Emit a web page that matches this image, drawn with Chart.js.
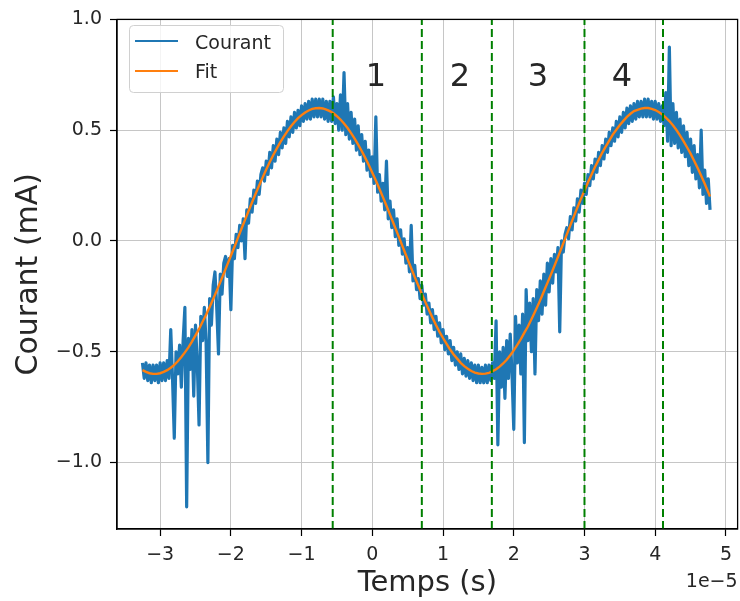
<!DOCTYPE html>
<html><head><meta charset="utf-8">
<script src="https://cdn.jsdelivr.net/npm/chart.js@4.4.1/dist/chart.umd.min.js"></script>
<style>html,body{margin:0;padding:0;background:#fff;}#wrap{width:740px;height:601px;}</style>
</head><body><div id="wrap"><canvas id="c" width="740" height="601"></canvas></div>
<script>
const seriesNames = ['Courant', 'Fit'];
const xTitle = 'Temps (s)';
const yTitle = 'Courant (mA)';
const xOffsetText = '1e\u22125';
const xTicks = [-3, -2, -1, 0, 1, 2, 3, 4, 5];
const yTicks = [-1.0, -0.5, 0.0, 0.5, 1.0];
const xRange = [-3.61, 5.165];
const yRange = [-1.3, 1.0];
const boundaryX = [-0.56, 0.70, 1.69, 3.0, 4.11];
const regionLabels = ['1', '2', '3', '4'];
const regionX = [0.05, 1.24, 2.34, 3.53];
const regionY = [0.75, 0.75, 0.75, 0.75];

const timeX = [
-3.25,-3.225,-3.2,-3.175,-3.15,-3.125,-3.1,-3.075,-3.05,-3.025,
-3,-2.975,-2.95,-2.925,-2.9,-2.875,-2.85,-2.825,-2.8,-2.775,
-2.75,-2.725,-2.7,-2.675,-2.65,-2.625,-2.6,-2.575,-2.55,-2.525,
-2.5,-2.475,-2.45,-2.425,-2.4,-2.375,-2.35,-2.325,-2.3,-2.275,
-2.25,-2.225,-2.2,-2.175,-2.15,-2.125,-2.1,-2.075,-2.05,-2.025,
-2,-1.975,-1.95,-1.925,-1.9,-1.875,-1.85,-1.825,-1.8,-1.775,
-1.75,-1.725,-1.7,-1.675,-1.65,-1.625,-1.6,-1.575,-1.55,-1.525,
-1.5,-1.475,-1.45,-1.425,-1.4,-1.375,-1.35,-1.325,-1.3,-1.275,
-1.25,-1.225,-1.2,-1.175,-1.15,-1.125,-1.1,-1.075,-1.05,-1.025,
-1,-0.975,-0.95,-0.925,-0.9,-0.875,-0.85,-0.825,-0.8,-0.775,
-0.75,-0.725,-0.7,-0.675,-0.65,-0.625,-0.6,-0.575,-0.55,-0.525,
-0.5,-0.475,-0.45,-0.425,-0.4,-0.375,-0.35,-0.325,-0.3,-0.275,
-0.25,-0.225,-0.2,-0.175,-0.15,-0.125,-0.1,-0.075,-0.05,-0.025,
0,0.025,0.05,0.075,0.1,0.125,0.15,0.175,0.2,0.225,
0.25,0.275,0.3,0.325,0.35,0.375,0.4,0.425,0.45,0.475,
0.5,0.525,0.55,0.575,0.6,0.625,0.65,0.675,0.7,0.725,
0.75,0.775,0.8,0.825,0.85,0.875,0.9,0.925,0.95,0.975,
1,1.025,1.05,1.075,1.1,1.125,1.15,1.175,1.2,1.225,
1.25,1.275,1.3,1.325,1.35,1.375,1.4,1.425,1.45,1.475,
1.5,1.525,1.55,1.575,1.6,1.625,1.65,1.675,1.7,1.725,
1.75,1.775,1.8,1.825,1.85,1.875,1.9,1.925,1.95,1.975,
2,2.025,2.05,2.075,2.1,2.125,2.15,2.175,2.2,2.225,
2.25,2.275,2.3,2.325,2.35,2.375,2.4,2.425,2.45,2.475,
2.5,2.525,2.55,2.575,2.6,2.625,2.65,2.675,2.7,2.725,
2.75,2.775,2.8,2.825,2.85,2.875,2.9,2.925,2.95,2.975,
3,3.025,3.05,3.075,3.1,3.125,3.15,3.175,3.2,3.225,
3.25,3.275,3.3,3.325,3.35,3.375,3.4,3.425,3.45,3.475,
3.5,3.525,3.55,3.575,3.6,3.625,3.65,3.675,3.7,3.725,
3.75,3.775,3.8,3.825,3.85,3.875,3.9,3.925,3.95,3.975,
4,4.025,4.05,4.075,4.1,4.125,4.15,4.175,4.2,4.225,
4.25,4.275,4.3,4.325,4.35,4.375,4.4,4.425,4.45,4.475,
4.5,4.525,4.55,4.575,4.6,4.625,4.65,4.675,4.7,4.725,
4.75,4.775
];

const courant = [
-0.55,-0.62,-0.55,-0.63,-0.56,-0.64,-0.56,-0.63,-0.56,-0.64,
-0.55,-0.63,-0.55,-0.63,-0.54,-0.62,-0.40,-0.62,-0.89,-0.50,
-0.60,-0.47,-0.66,-0.45,-0.30,-1.20,-0.44,-0.58,-0.40,-0.70,
-0.38,-0.55,-0.83,-0.34,-0.45,-0.30,-0.46,-1.00,-0.26,-0.38,
-0.20,-0.14,-0.30,-0.51,-0.15,-0.24,-0.10,-0.07,-0.16,-0.08,
-0.31,-0.02,-0.08,0.03,-0.03,0.07,0.00,0.10,-0.08,0.14,
0.08,0.19,0.13,0.23,0.17,0.27,0.21,0.30,0.33,0.27,
0.36,0.30,0.40,0.33,0.43,0.36,0.46,0.39,0.49,0.42,
0.51,0.44,0.54,0.47,0.56,0.49,0.58,0.51,0.59,0.52,
0.61,0.54,0.62,0.55,0.63,0.55,0.64,0.56,0.64,0.56,
0.64,0.56,0.64,0.55,0.63,0.54,0.63,0.54,0.65,0.53,
0.62,0.50,0.66,0.50,0.76,0.48,0.62,0.46,0.58,0.44,
0.55,0.41,0.52,0.39,0.48,0.36,0.45,0.32,0.41,0.29,
0.38,0.26,0.56,0.22,0.30,0.18,0.26,0.14,0.36,0.10,
0.18,0.06,0.14,0.02,0.10,-0.02,0.05,-0.06,0.01,-0.10,
-0.03,-0.14,0.07,-0.18,-0.11,-0.22,-0.17,-0.26,-0.20,-0.29,
-0.24,-0.33,-0.28,-0.37,-0.31,-0.40,-0.34,-0.43,-0.37,-0.46,
-0.40,-0.49,-0.43,-0.51,-0.45,-0.54,-0.48,-0.56,-0.50,-0.58,
-0.51,-0.60,-0.53,-0.61,-0.54,-0.62,-0.55,-0.63,-0.56,-0.64,
-0.56,-0.64,-0.57,-0.64,-0.56,-0.64,-0.56,-0.63,-0.55,-0.62,
-0.36,-0.92,-0.50,-0.66,-0.48,-0.71,-0.45,-0.62,-0.42,-0.60,
-0.85,-0.34,-0.55,-0.38,-0.60,-0.33,-0.91,-0.22,-0.45,-0.28,
-0.50,-0.26,-0.60,-0.22,-0.36,-0.18,-0.33,-0.15,-0.29,-0.10,
-0.23,-0.08,-0.19,-0.06,-0.14,-0.03,-0.41,0.00,-0.05,0.03,
0.06,0.01,0.11,0.05,0.15,0.09,0.19,0.13,0.23,0.17,
0.26,0.21,0.30,0.25,0.34,0.28,0.37,0.31,0.40,0.34,
0.43,0.37,0.46,0.40,0.49,0.43,0.51,0.45,0.54,0.47,
0.56,0.49,0.58,0.51,0.60,0.53,0.61,0.54,0.62,0.55,
0.63,0.56,0.63,0.56,0.64,0.56,0.64,0.56,0.63,0.55,
0.63,0.55,0.62,0.54,0.61,0.52,0.67,0.45,0.875,0.43,
0.62,0.44,0.58,0.42,0.55,0.40,0.52,0.38,0.49,0.34,
0.46,0.31,0.43,0.28,0.39,0.24,0.50,0.21,0.32,0.17,
0.28,0.14
];

const fitX = [
-3.25,-3.2,-3.15,-3.1,-3.05,-3,-2.95,-2.9,-2.85,-2.8,
-2.75,-2.7,-2.65,-2.6,-2.55,-2.5,-2.45,-2.4,-2.35,-2.3,
-2.25,-2.2,-2.15,-2.1,-2.05,-2,-1.95,-1.9,-1.85,-1.8,
-1.75,-1.7,-1.65,-1.6,-1.55,-1.5,-1.45,-1.4,-1.35,-1.3,
-1.25,-1.2,-1.15,-1.1,-1.05,-1,-0.95,-0.9,-0.85,-0.8,
-0.75,-0.7,-0.65,-0.6,-0.55,-0.5,-0.45,-0.4,-0.35,-0.3,
-0.25,-0.2,-0.15,-0.1,-0.05,0,0.05,0.1,0.15,0.2,
0.25,0.3,0.35,0.4,0.45,0.5,0.55,0.6,0.65,0.7,
0.75,0.8,0.85,0.9,0.95,1,1.05,1.1,1.15,1.2,
1.25,1.3,1.35,1.4,1.45,1.5,1.55,1.6,1.65,1.7,
1.75,1.8,1.85,1.9,1.95,2,2.05,2.1,2.15,2.2,
2.25,2.3,2.35,2.4,2.45,2.5,2.55,2.6,2.65,2.7,
2.75,2.8,2.85,2.9,2.95,3,3.05,3.1,3.15,3.2,
3.25,3.3,3.35,3.4,3.45,3.5,3.55,3.6,3.65,3.7,
3.75,3.8,3.85,3.9,3.95,4,4.05,4.1,4.15,4.2,
4.25,4.3,4.35,4.4,4.45,4.5,4.55,4.6,4.65,4.7,
4.75,4.775
];

const fitY = [
-0.583,-0.591,-0.597,-0.600,-0.600,-0.597,-0.591,-0.583,-0.572,-0.559,
-0.543,-0.524,-0.503,-0.480,-0.454,-0.426,-0.397,-0.365,-0.333,-0.298,
-0.262,-0.224,-0.186,-0.147,-0.107,-0.067,-0.027,0.014,0.055,0.095,
0.135,0.175,0.213,0.250,0.287,0.322,0.356,0.388,0.418,0.446,
0.472,0.496,0.518,0.537,0.554,0.568,0.580,0.589,0.596,0.599,
0.600,0.598,0.593,0.586,0.576,0.563,0.548,0.530,0.510,0.487,
0.462,0.435,0.406,0.375,0.343,0.308,0.273,0.236,0.198,0.159,
0.119,0.079,0.039,-0.002,-0.043,-0.083,-0.123,-0.163,-0.201,-0.239,
-0.276,-0.312,-0.346,-0.379,-0.410,-0.438,-0.464,-0.490,-0.512,-0.531,
-0.550,-0.565,-0.577,-0.587,-0.594,-0.598,-0.600,-0.599,-0.595,-0.588,
-0.579,-0.567,-0.553,-0.536,-0.516,-0.494,-0.469,-0.443,-0.414,-0.386,
-0.353,-0.319,-0.285,-0.247,-0.209,-0.171,-0.132,-0.092,-0.052,-0.011,
0.030,0.071,0.111,0.151,0.190,0.228,0.265,0.300,0.335,0.366,
0.398,0.426,0.453,0.480,0.502,0.523,0.542,0.560,0.574,0.586,
0.592,0.597,0.600,0.600,0.596,0.591,0.582,0.571,0.557,0.541,
0.522,0.501,0.477,0.451,0.423,0.394,0.362,0.329,0.294,0.258,
0.220,0.201
];

const FONT = "'DejaVu Sans', sans-serif";
const BLUE = '#1f77b4', ORANGE = '#ff7f0e', GREEN = '#008000', TEXT = '#262626';
const minus = s => s.replace('-', '\u2212');
const fmtX = v => minus(String(v));
const fmtY = v => minus(Number(v).toFixed(1));

const decor = {
  id: 'decor',
  afterDatasetsDraw(chart) {
    const {ctx, chartArea: a, scales: {x, y}} = chart;
    ctx.save();
    ctx.strokeStyle = '#000'; ctx.lineWidth = 1.3;
    ctx.strokeRect(a.left, a.top, a.right - a.left, a.bottom - a.top);
    ctx.fillStyle = TEXT; ctx.font = '32px ' + FONT;
    ctx.textAlign = 'center'; ctx.textBaseline = 'alphabetic';
    regionLabels.forEach((t, i) => {
      ctx.fillText(t, x.getPixelForValue(regionX[i]), y.getPixelForValue(regionY[i]) + 11.5);
    });
    const lx = 129, ly = 25, lw = 154, lh = 67;
    ctx.beginPath();
    ctx.roundRect(lx + 0.5, ly + 0.5, lw, lh, 4);
    ctx.fillStyle = 'rgba(255,255,255,0.8)'; ctx.fill();
    ctx.strokeStyle = '#d0d0d0'; ctx.lineWidth = 1; ctx.stroke();
    const items = [[seriesNames[0], BLUE, 41, 49], [seriesNames[1], ORANGE, 71, 78]];
    items.forEach(([name, col, yl, yb]) => {
      ctx.beginPath(); ctx.strokeStyle = col; ctx.lineWidth = 2.2;
      ctx.moveTo(135, yl); ctx.lineTo(178, yl); ctx.stroke();
      ctx.fillStyle = TEXT; ctx.font = '19px ' + FONT; ctx.textAlign = 'left';
      ctx.fillText(name, 195, yb);
    });
    ctx.restore();
  },
  afterDraw(chart) {
    const {ctx, chartArea: a} = chart;
    ctx.save();
    ctx.fillStyle = TEXT;
    ctx.font = '29px ' + FONT; ctx.textAlign = 'center'; ctx.textBaseline = 'alphabetic';
    ctx.fillText(xTitle, (a.left + a.right) / 2, 591);
    ctx.save();
    ctx.translate(37, (a.top + a.bottom) / 2);
    ctx.rotate(-Math.PI / 2);
    ctx.font = '30px ' + FONT;
    ctx.fillText(yTitle, 0, 0);
    ctx.restore();
    ctx.font = '19px ' + FONT; ctx.textAlign = 'right';
    ctx.fillText(xOffsetText, a.right, 587);
    ctx.restore();
  }
};

const datasets = [
  {label: seriesNames[0], data: timeX.map((t, i) => ({x: t, y: courant[i]})),
   borderColor: BLUE, borderWidth: 3.2, pointRadius: 0, tension: 0, order: 3, borderJoinStyle: 'round'},
  {label: seriesNames[1], data: fitX.map((t, i) => ({x: t, y: fitY[i]})),
   borderColor: ORANGE, borderWidth: 2.4, pointRadius: 0, tension: 0, order: 2}
].concat(boundaryX.map(v => ({
  label: 'limite', data: [{x: v, y: yRange[0]}, {x: v, y: yRange[1]}],
  borderColor: GREEN, borderWidth: 2, borderDash: [8, 4], pointRadius: 0, order: 1
})));

const gridOpts = {color: '#c6c6c6', lineWidth: 1, tickLength: 7, tickColor: '#000', tickWidth: 1.2};
new Chart(document.getElementById('c'), {
  type: 'line',
  data: {datasets},
  options: {
    responsive: false, animation: false, devicePixelRatio: 1,
    layout: {padding: {top: 15, right: 1, left: 0, bottom: 0}},
    plugins: {legend: {display: false}, tooltip: {enabled: false}},
    scales: {
      x: {type: 'linear', min: xRange[0], max: xRange[1],
          afterBuildTicks: s => { s.ticks = xTicks.map(v => ({value: v})); },
          afterFit: s => { s.height = 72; },
          grid: gridOpts, border: {color: '#000', width: 1.3},
          ticks: {padding: 8, color: TEXT, font: {family: FONT, size: 19}, maxRotation: 0, autoSkip: false, callback: v => fmtX(v)}},
      y: {type: 'linear', min: yRange[0], max: yRange[1],
          afterBuildTicks: s => { s.ticks = yTicks.map(v => ({value: v})); },
          afterFit: s => { s.width = 117; },
          grid: gridOpts, border: {color: '#000', width: 1.3},
          ticks: {padding: 8, color: TEXT, font: {family: FONT, size: 19}, autoSkip: false, callback: v => fmtY(v)}}
    }
  },
  plugins: [decor]
});
</script></body></html>
